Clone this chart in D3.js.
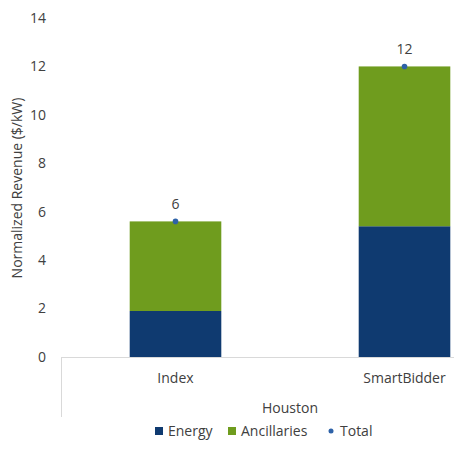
<!DOCTYPE html>
<html>
<head>
<meta charset="utf-8">
<script src="https://d3js.org/d3.v7.min.js"></script>
<style>
  body { margin: 0; background: #fff; }
  svg text { font-family: 'Open Sans', 'Noto Sans', sans-serif; fill: #404040; }
</style>
</head>
<body>
<div id="chart"></div>
<script>
  'use strict';
  var categories = ['Index', 'SmartBidder'];
  var energy = [1.9, 5.4];
  var ancillaries = [3.7, 6.6];
  var totalLabels = ['6', '12'];
  var yTicks = [0, 2, 4, 6, 8, 10, 12, 14];
  var groupLabel = 'Houston';

  var width = 454, height = 461;
  var x0 = 61, plotW = 458, y0 = 357, yTop = 18;

  var svg = d3.select('#chart').append('svg')
      .attr('width', width).attr('height', height);

  var x = d3.scaleBand().domain(categories).range([x0, x0 + plotW]).paddingInner(0.6).paddingOuter(0.3);
  var y = d3.scaleLinear().domain([0, 14]).range([y0, yTop]);

  var rows = categories.map(function (c, i) {
    return { cat: c, energy: energy[i], anc: ancillaries[i], total: energy[i] + ancillaries[i], label: totalLabels[i] };
  });

  // y tick labels
  svg.selectAll('.ytick').data(yTicks).enter().append('text')
      .attr('x', 46).attr('y', function (d) { return y(d); })
      .attr('dy', '0.35em').attr('text-anchor', 'end')
      .style('font-size', '14px').text(function (d) { return d; });

  // y title
  svg.append('text')
      .attr('transform', 'translate(22,' + 188 + ') rotate(-90)')
      .attr('text-anchor', 'middle').style('font-size', '14px')
      .text('Normalized Revenue ($/kW)');

  // bars
  svg.selectAll('.energy').data(rows).enter().append('rect')
      .attr('x', function (d) { return x(d.cat); })
      .attr('width', x.bandwidth())
      .attr('y', function (d) { return y(d.energy); })
      .attr('height', function (d) { return y(0) - y(d.energy); })
      .attr('fill', '#0f3a70');
  svg.selectAll('.anc').data(rows).enter().append('rect')
      .attr('x', function (d) { return x(d.cat); })
      .attr('width', x.bandwidth())
      .attr('y', function (d) { return y(d.total); })
      .attr('height', function (d) { return y(d.energy) - y(d.total); })
      .attr('fill', '#6f9c1e');

  // total markers
  svg.selectAll('.dot').data(rows).enter().append('circle')
      .attr('cx', function (d) { return x(d.cat) + x.bandwidth() / 2; })
      .attr('cy', function (d) { return y(d.total); })
      .attr('r', 2.8).attr('fill', '#2e62a8');
  svg.selectAll('.tot').data(rows).enter().append('text')
      .attr('x', function (d) { return x(d.cat) + x.bandwidth() / 2; })
      .attr('y', function (d) { return y(d.total) - 12; })
      .attr('text-anchor', 'middle').style('font-size', '14px')
      .text(function (d) { return d.label; });

  // axis lines
  svg.append('line').attr('x1', x0).attr('x2', width).attr('y1', y0 + 0.5).attr('y2', y0 + 0.5)
      .attr('stroke', '#d9d9d9');
  svg.append('line').attr('x1', x0 + 0.5).attr('x2', x0 + 0.5).attr('y1', y0).attr('y2', 417)
      .attr('stroke', '#d9d9d9');

  // category labels
  svg.selectAll('.cat').data(categories).enter().append('text')
      .attr('x', function (d) { return x(d) + x.bandwidth() / 2; })
      .attr('y', 378).attr('dy', '0.35em').attr('text-anchor', 'middle')
      .style('font-size', '14px').text(function (d) { return d; });
  svg.append('text').attr('x', 290).attr('y', 408).attr('dy', '0.35em')
      .attr('text-anchor', 'middle').style('font-size', '14px').text(groupLabel);

  // legend
  var legend = svg.append('g').attr('transform', 'translate(0,431)');
  legend.append('rect').attr('x', 155).attr('y', -4).attr('width', 8).attr('height', 8).attr('fill', '#0f3a70');
  legend.append('text').attr('x', 168).attr('dy', '0.35em').style('font-size', '14px').text('Energy');
  legend.append('rect').attr('x', 228).attr('y', -4).attr('width', 8).attr('height', 8).attr('fill', '#6f9c1e');
  legend.append('text').attr('x', 241).attr('dy', '0.35em').style('font-size', '14px').text('Ancillaries');
  legend.append('circle').attr('cx', 331).attr('cy', 0).attr('r', 2.5).attr('fill', '#2e62a8');
  legend.append('text').attr('x', 340).attr('dy', '0.35em').style('font-size', '14px').text('Total');
</script>
</body>
</html>
